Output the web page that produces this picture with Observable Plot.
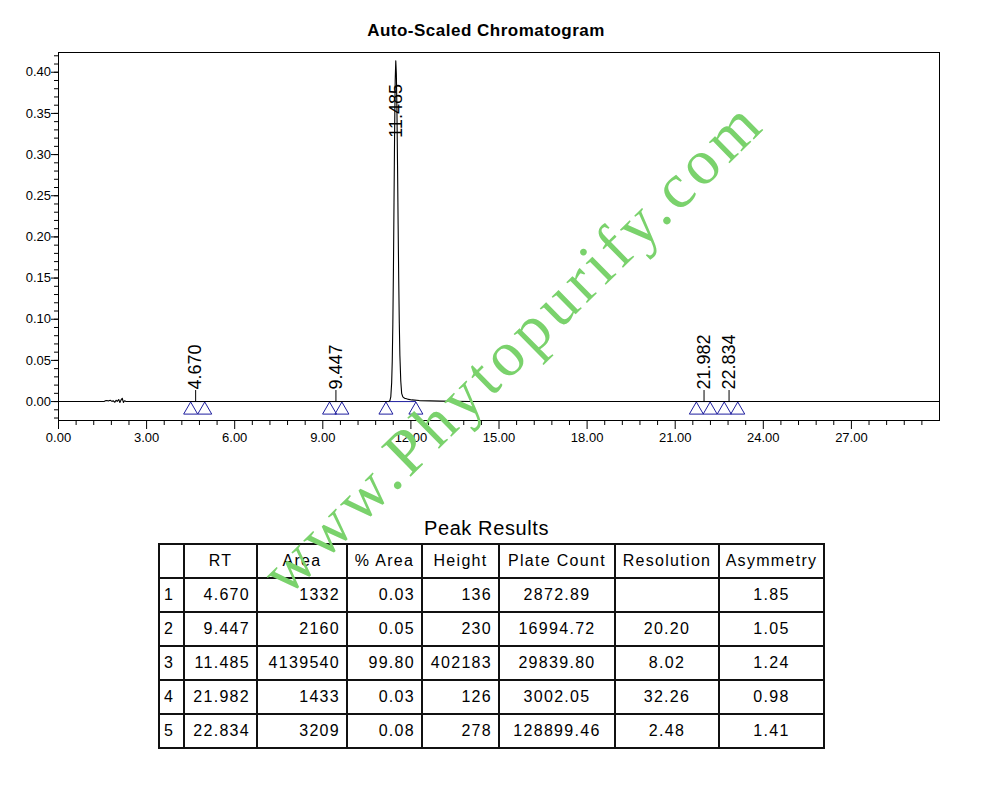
<!DOCTYPE html>
<html>
<head>
<meta charset="utf-8">
<script src="https://cdn.jsdelivr.net/npm/d3@7"></script>
<script src="https://cdn.jsdelivr.net/npm/@observablehq/plot@0.6"></script>
<style>
  body { margin: 0; background: #fff; font-family: "Liberation Sans", Arial, sans-serif; color: #000; }
  #page { position: relative; width: 989px; height: 791px; overflow: hidden; background: #fff; }
  #title { position: absolute; left: 0; width: 972px; top: 22px; line-height: 17px; text-align: center;
           font-weight: bold; font-size: 17px; letter-spacing: 0.5px; }
  #chart { position: absolute; left: 0; top: 45px; }
  #results-title { position: absolute; left: 0; width: 973px; top: 518px; line-height: 20px; text-align: center;
                   font-size: 20px; letter-spacing: 0.6px; }
  #results { position: absolute; left: 158px; top: 543px; border-collapse: collapse; table-layout: fixed;
             font-size: 16px; letter-spacing: 1.3px; }
  #results td, #results th { border: 2px solid #111; height: 32px; padding: 0; font-weight: normal;
                             white-space: nowrap; vertical-align: middle; }
  #results th { text-align: center; }
  #results td.num { text-align: right; padding-right: 6px; }
  #results td.ctr { text-align: center; }
  #results td.idx { text-align: left; padding-left: 4px; }
  #mark { position: absolute; left: 0; top: 0; pointer-events: none; }
</style>
</head>
<body>
<div id="page">
  <div id="title">Auto-Scaled Chromatogram</div>
  <div id="chart"></div>
  <div id="results-title">Peak Results</div>
  <table id="results"></table>
  <svg id="mark" width="989" height="791"></svg>
</div>
<script>
// Detector trace (time in minutes, absorbance in AU)
const traceTime = [
  0, 1.55, 1.62, 1.70, 1.76, 1.82, 1.86, 1.92, 1.96, 2.00, 2.05, 2.09, 2.13, 2.17, 2.21, 2.25, 2.30,
  11.245, 11.285, 11.315, 11.345, 11.365, 11.385, 11.405, 11.425, 11.445, 11.465, 11.485,
  11.505, 11.525, 11.545, 11.565, 11.585, 11.605, 11.625, 11.655, 11.685, 11.725, 11.785,
  11.885, 12.035, 12.285, 12.985, 14.0, 30
];
const traceAbs = [
  0, 0, 0.0012, 0.0008, 0.0015, 0.0002, 0.0010, -0.0008, 0.0016, 0.0003, 0.0025, -0.0012, 0.0020, 0.0040, -0.0010, 0.0010, 0,
  0, 0.0011, 0.0056, 0.023, 0.049, 0.094, 0.160, 0.242, 0.326, 0.390, 0.414,
  0.398, 0.352, 0.287, 0.215, 0.149, 0.095, 0.056, 0.025, 0.010, 0.0057, 0.004,
  0.003, 0.002, 0.0012, 0.0005, 0, 0
];

// Integrated peaks
const peakRT    = [4.670, 9.447, 11.485, 21.982, 22.834];
const peakStart = [4.50, 9.23, 11.15, 21.72, 22.67];
const peakEnd   = [4.98, 9.65, 12.17, 22.19, 23.13];

// Peak results table
const tableHeaders = ["", "RT", "Area", "% Area", "Height", "Plate Count", "Resolution", "Asymmetry"];
const peakArea      = [1332, 2160, 4139540, 1433, 3209];
const peakPctArea   = ["0.03", "0.05", "99.80", "0.03", "0.08"];
const peakHeight    = [136, 230, 402183, 126, 278];
const peakPlates    = ["2872.89", "16994.72", "29839.80", "3002.05", "128899.46"];
const peakResolution = ["", "20.20", "8.02", "32.26", "2.48"];
const peakAsymmetry = ["1.85", "1.05", "1.24", "0.98", "1.41"];

// Axis ticks
const xMajor = [0, 3, 6, 9, 12, 15, 18, 21, 24, 27];
const yMajor = [0, 0.05, 0.10, 0.15, 0.20, 0.25, 0.30, 0.35, 0.40];

const trace = traceTime.map((t, i) => ({t, v: traceAbs[i]}));
const bisect = d3.bisector(d => d.t).left;
function valueAt(t) {
  const i = bisect(trace, t);
  if (i <= 0) return trace[0].v;
  if (i >= trace.length) return trace[trace.length - 1].v;
  const a = trace[i - 1], b = trace[i];
  return a.v + (b.v - a.v) * (t - a.t) / (b.t - a.t);
}

// labels of tall peaks sit lower, inside the plot area
const labelCeiling = 0.306;
const peaks = peakRT.map((rt, i) => {
  const apex = valueAt(rt);
  const tall = apex > labelCeiling;
  return {rt, start: peakStart[i], end: peakEnd[i], tall, labelY: tall ? labelCeiling : 0};
});
const marks = peaks.flatMap(p => [{t: p.start}, {t: p.end}]);

const xMinor = d3.range(0, 30, 0.6).map(v => +v.toFixed(2)).filter(v => !xMajor.some(m => Math.abs(m - v) < 1e-6));
const yMinor = d3.range(-0.02, 0.425, 0.01).map(v => +v.toFixed(2));
const fmt2 = d3.format(".2f");
const blue = "#1e1e9e";

const chart = Plot.plot({
  width: 989,
  height: 410,
  marginTop: 7,
  marginRight: 50,
  marginBottom: 35,
  marginLeft: 58,
  style: {fontFamily: "'Liberation Sans', Arial, sans-serif", fontSize: "13px", background: "transparent"},
  x: {domain: [0, 30]},
  y: {domain: [-0.023, 0.424]},
  marks: [
    Plot.axisX(xMinor, {tickSize: 5, tickFormat: () => "", label: null}),
    Plot.axisX(xMajor, {tickSize: 9, tickPadding: 3, tickFormat: fmt2, fontSize: 13, label: null}),
    Plot.axisY(yMinor, {tickSize: 4, tickFormat: () => "", label: null}),
    Plot.axisY(yMajor, {tickSize: 7, tickPadding: 0.5, tickFormat: fmt2, fontSize: 13, label: null}),
    Plot.link(peaks, {x1: "start", x2: "end", y1: 0, y2: 0, stroke: blue, strokeWidth: 1}),
    Plot.line(trace, {x: "t", y: "v", stroke: "#000", strokeWidth: 1.1}),
    Plot.ruleX(peaks.filter(p => !p.tall), {x: "rt", y1: 0, y2: 0.0134, stroke: "#000", strokeWidth: 1}),
    Plot.text(peaks, {x: "rt", y: "labelY", text: d => d.rt.toFixed(3), rotate: -90, textAnchor: "start",
                      lineAnchor: "middle", dy: -12, fontSize: 18, fill: "#000"}),
    Plot.dot(marks, {x: "t", y: 0, symbol: "triangle", r: 5.2, stroke: blue, fill: "none", strokeWidth: 1, dy: 8.5}),
    Plot.frame({stroke: "#000"})
  ]
});
document.getElementById("chart").appendChild(chart);

// Peak results table
const table = d3.select("#results");
const colWidths = [25, 73, 90, 75, 77, 116, 104, 105];
table.append("colgroup").selectAll("col").data(colWidths).join("col").style("width", d => d + "px");
table.append("tr").selectAll("th").data(tableHeaders).join("th").text(d => d);
peakRT.forEach((rt, i) => {
  const row = table.append("tr");
  const cells = [
    [String(i + 1), "idx"],
    [rt.toFixed(3), "num"],
    [String(peakArea[i]), "num"],
    [peakPctArea[i], "num"],
    [String(peakHeight[i]), "num"],
    [peakPlates[i], "ctr"],
    [peakResolution[i], "ctr"],
    [peakAsymmetry[i], "ctr"]
  ];
  row.selectAll("td").data(cells).join("td").attr("class", d => d[1]).text(d => d[0]);
});

// Site mark across the page
d3.select("#mark").append("text")
  .attr("transform", "translate(514,348) rotate(-44.5)")
  .attr("text-anchor", "middle")
  .attr("dy", "0.3em")
  .attr("font-family", "'Liberation Serif', 'DejaVu Serif', serif")
  .attr("font-size", 64)
  .attr("letter-spacing", 5)
  .attr("fill", "#7ad26c")
  .text("www.Phytopurify.com");
</script>
</body>
</html>
